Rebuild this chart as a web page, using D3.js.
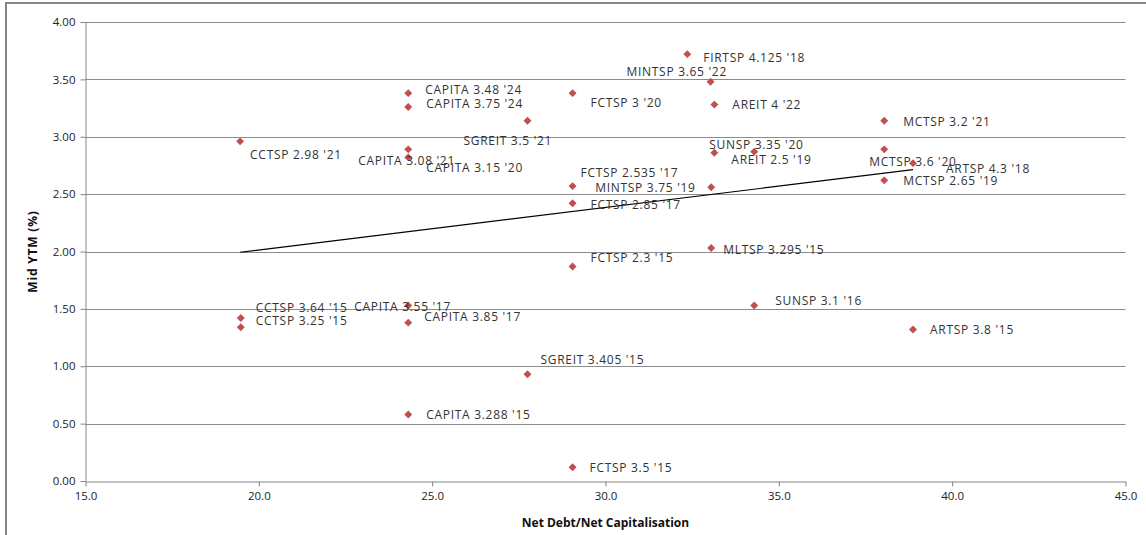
<!DOCTYPE html>
<html><head><meta charset="utf-8">
<script src="https://cdn.jsdelivr.net/npm/d3@7"></script>
<style>body{margin:0;background:#fff;} svg{display:block;}</style>
</head><body><svg id="c" width="1146" height="535"></svg>
<script>
const names = ["FIRTSP 4.125 '18","MINTSP 3.65 '22","AREIT 4 '22","FCTSP 3 '20","CAPITA 3.48 '24","CAPITA 3.75 '24","SGREIT 3.5 '21","CCTSP 2.98 '21","CAPITA 3.08 '21","CAPITA 3.15 '20","MCTSP 3.2 '21","AREIT 2.5 '19","SUNSP 3.35 '20","MCTSP 3.6 '20","ARTSP 4.3 '18","MCTSP 2.65 '19","FCTSP 2.535 '17","MINTSP 3.75 '19","FCTSP 2.85 '17","FCTSP 2.3 '15","MLTSP 3.295 '15","SUNSP 3.1 '16","ARTSP 3.8 '15","CCTSP 3.64 '15","CCTSP 3.25 '15","CAPITA 3.55 '17","CAPITA 3.85 '17","SGREIT 3.405 '15","CAPITA 3.288 '15","FCTSP 3.5 '15"];
const netDebt = [32.36,33.03,33.14,29.05,24.31,24.31,27.75,19.46,24.31,24.31,38.04,33.14,34.29,38.04,38.87,38.04,29.05,33.05,29.05,29.05,33.05,34.29,38.87,19.48,19.48,24.31,24.31,27.75,24.31,29.05];
const midYTM = [3.72,3.48,3.28,3.38,3.38,3.26,3.14,2.96,2.89,2.82,3.14,2.86,2.87,2.89,2.77,2.62,2.57,2.56,2.42,1.87,2.03,1.53,1.32,1.42,1.34,1.53,1.38,0.93,0.58,0.12];
// label offsets (px) from marker: [dx to text start, dy to text middle]
const labelOffsets = [[16,3],[-84,-10],[18,0],[18,9],[17,-4],[18,-3],[-64,20],[10,13],[-50,11],[18,10],[19,1],[17,7],[-45,-7],[-15,12],[33,5],[19,0],[8,-14],[-116,0],[18,1],[18,-9],[12,1],[21,-5],[17,0],[15,-11],[15,-7],[-54,1],[16,-6],[13,-15],[18,0],[17,0]];
const xTicks = [15,20,25,30,35,40,45];
const yTicks = [0,0.5,1,1.5,2,2.5,3,3.5,4];

const svg = d3.select("#c");
const pL=85.5, pR=1125.5, pT=22, pB=481;
const x = d3.scaleLinear().domain([15,45]).range([pL,pR]);
const y = d3.scaleLinear().domain([0,4]).range([pB,pT]);

// outer frame
svg.append("rect").attr("x",6).attr("y",3).attr("width",1160).attr("height",560)
  .attr("fill","none").attr("stroke","#868686").attr("stroke-width",2);

// gridlines
svg.append("g").selectAll("line").data(yTicks.filter(d=>d>0)).join("line")
  .attr("x1",pL).attr("x2",pR).attr("y1",d=>Math.round(y(d))+0.5).attr("y2",d=>Math.round(y(d))+0.5)
  .attr("stroke","#8c8c8c").attr("stroke-width",1);

// axes
const fontTick = "'Open Sans', 'DejaVu Sans', sans-serif";
const ya = svg.append("g").attr("transform",`translate(${pL},0)`)
  .call(d3.axisLeft(y).tickValues(yTicks).tickFormat(d3.format(".2f")).tickSize(5).tickSizeOuter(0));
const xa = svg.append("g").attr("transform",`translate(0,${Math.round(pB)+0.5})`)
  .call(d3.axisBottom(x).tickValues(xTicks).tickFormat(d3.format(".1f")).tickSize(5).tickSizeOuter(0));
[ya,xa].forEach(a=>{
  a.select(".domain").attr("stroke","#868686");
  a.selectAll(".tick line").attr("stroke","#868686");
  a.selectAll("text").attr("fill","#222").style("font-family",fontTick).style("font-size","11.5px");
});
ya.selectAll("text").attr("x",-10);
xa.selectAll("text").attr("y",10);

// axis titles
svg.append("text").attr("transform",`translate(32,${(pT+pB)/2}) rotate(-90)`)
  .attr("text-anchor","middle").attr("dominant-baseline","central")
  .style("font-family",fontTick).style("font-size","12px").style("font-weight","bold").style("letter-spacing","0.8px")
  .attr("fill","#111").text("Mid YTM (%)");
svg.append("text").attr("x",(pL+pR)/2).attr("y",527)
  .attr("text-anchor","middle").style("font-family",fontTick).style("font-size","12px").style("font-weight","bold")
  .attr("fill","#111").text("Net Debt/Net Capitalisation");

// trendline (least squares)
const n = netDebt.length;
const mx = d3.mean(netDebt), my = d3.mean(midYTM);
let sxy=0,sxx=0;
for(let i=0;i<n;i++){sxy+=(netDebt[i]-mx)*(midYTM[i]-my);sxx+=(netDebt[i]-mx)**2;}
const slope=sxy/sxx, icpt=my-slope*mx;
const x0=d3.min(netDebt), x1=d3.max(netDebt);
svg.append("line").attr("x1",x(x0)).attr("y1",y(icpt+slope*x0)).attr("x2",x(x1)).attr("y2",y(icpt+slope*x1))
  .attr("stroke","#000").attr("stroke-width",1.2);

// markers
const pts = names.map((nm,i)=>({nm, xv:netDebt[i], yv:midYTM[i], off:labelOffsets[i]}));
svg.append("g").selectAll("path").data(pts).join("path")
  .attr("transform",d=>`translate(${x(d.xv)},${y(d.yv)})`)
  .attr("d",d3.symbol(d3.symbolDiamond2, 40))
  .attr("fill","#C0504D");

// labels
svg.append("g").selectAll("text").data(pts).join("text")
  .attr("x",d=>x(d.xv)+d.off[0]).attr("y",d=>y(d.yv)+d.off[1])
  .attr("dominant-baseline","central")
  .style("font-family","'Open Sans', sans-serif").style("font-size","12px").style("letter-spacing","0.7px")
  .attr("fill","#333")
  .text(d=>d.nm);
</script></body></html>
